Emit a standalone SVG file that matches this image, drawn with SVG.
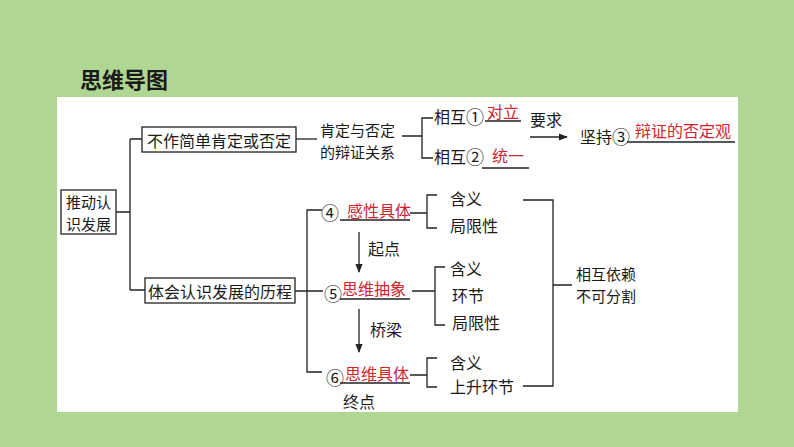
<svg xmlns="http://www.w3.org/2000/svg" width="794" height="447" viewBox="0 0 794 447">
<defs>
<style>
text{font-family:"Noto Sans CJK SC","Noto Sans",sans-serif;font-size:16px;fill:#1a1a1a;dominant-baseline:central}
.r{fill:#d0232b}
.c{font-size:18px}
.s{font-size:15px}
.t{font-size:22px;font-weight:bold}
.box{fill:#fff;stroke:#222;stroke-width:1.3}
.ln{fill:none;stroke:#222;stroke-width:1.3}
</style>
<marker id="ah" viewBox="0 0 10 10" refX="9" refY="5" markerWidth="7" markerHeight="7" orient="auto"><path d="M0,1 L10,5 L0,9 z" fill="#222"/></marker>
</defs>
<rect width="794" height="447" fill="#afd692"/>
<rect x="57" y="97" width="681" height="315" fill="#fff"/>
<text class="t" x="80" y="78">思维导图</text>

<g id="connectors">
<path class="ln" d="M116,212 H130 M130,139 V290 M130,139 H142 M130,290 H145"/>
<path class="ln" d="M296,139 H317"/>
<path class="ln" d="M402,136 H422 M433,118 H422 V158 H433"/>
<path class="ln" d="M485,121 H521 M482,168 H529 M627,142 H735"/>
<path class="ln" d="M530,137 H567" marker-end="url(#ah)"/>
<path class="ln" d="M295,291 H323 M322,210 H307 V372 H322"/>
<path class="ln" d="M340,220 H410 M340,299 H410 M340,383 H410"/>
<path class="ln" d="M410,213 H427 M437,195 H427 V228 H437"/>
<path class="ln" d="M412,291 H435 M445,267 H435 V325 H445"/>
<path class="ln" d="M410,375 H427 M437,358 H427 V387 H437"/>
<path class="ln" d="M359,232 V272" marker-end="url(#ah)"/>
<path class="ln" d="M359,309 V352" marker-end="url(#ah)"/>
<path class="ln" d="M523,200 H553 V386 H523 M553,285 H572"/>
</g>

<g id="root"><rect class="box" x="61" y="190" width="55" height="44"/><text class="s" x="66" y="201">推动认</text><text class="s" x="66" y="223">识发展</text></g>
<g id="n1"><rect class="box" x="142" y="127" width="154" height="25"/><text x="147" y="139.5">不作简单肯定或否定</text></g>
<g id="n2"><rect class="box" x="145" y="278" width="150" height="25"/><text x="148" y="290.5">体会认识发展的历程</text></g>
<g id="n3"><text class="s" x="320" y="129">肯定与否定</text><text class="s" x="320" y="151">的辩证关系</text></g>
<g id="n4"><text x="434" y="116">相互<tspan class="c">①</tspan></text><text class="r" x="487" y="111">对立</text></g>
<g id="n5"><text x="434" y="156">相互<tspan class="c">②</tspan></text><text class="r" x="492" y="155">统一</text></g>
<g id="n6"><text x="530" y="119">要求</text></g>
<g id="n7"><text x="580" y="136">坚持<tspan class="c">③</tspan></text><text class="r" x="635" y="130">辩证的否定观</text></g>
<g id="n8"><text class="c" x="321" y="212">④</text><text class="r" x="347" y="210">感性具体</text></g>
<g id="n9"><text x="450" y="198">含义</text><text x="450" y="225">局限性</text></g>
<g id="n10"><text x="368" y="248">起点</text></g>
<g id="n11"><text class="c" x="324" y="293">⑤</text><text class="r" x="342" y="288">思维抽象</text></g>
<g id="n12"><text x="450" y="268">含义</text><text x="452" y="295">环节</text><text x="452" y="322">局限性</text></g>
<g id="n13"><text x="370" y="329">桥梁</text></g>
<g id="n14"><text class="c" x="326" y="377">⑥</text><text class="r" x="345" y="373">思维具体</text><text x="343" y="401">终点</text></g>
<g id="n15"><text x="450" y="362">含义</text><text x="450" y="386">上升环节</text></g>
<g id="n16"><text class="s" x="576" y="273">相互依赖</text><text class="s" x="576" y="295">不可分割</text></g>
</svg>
